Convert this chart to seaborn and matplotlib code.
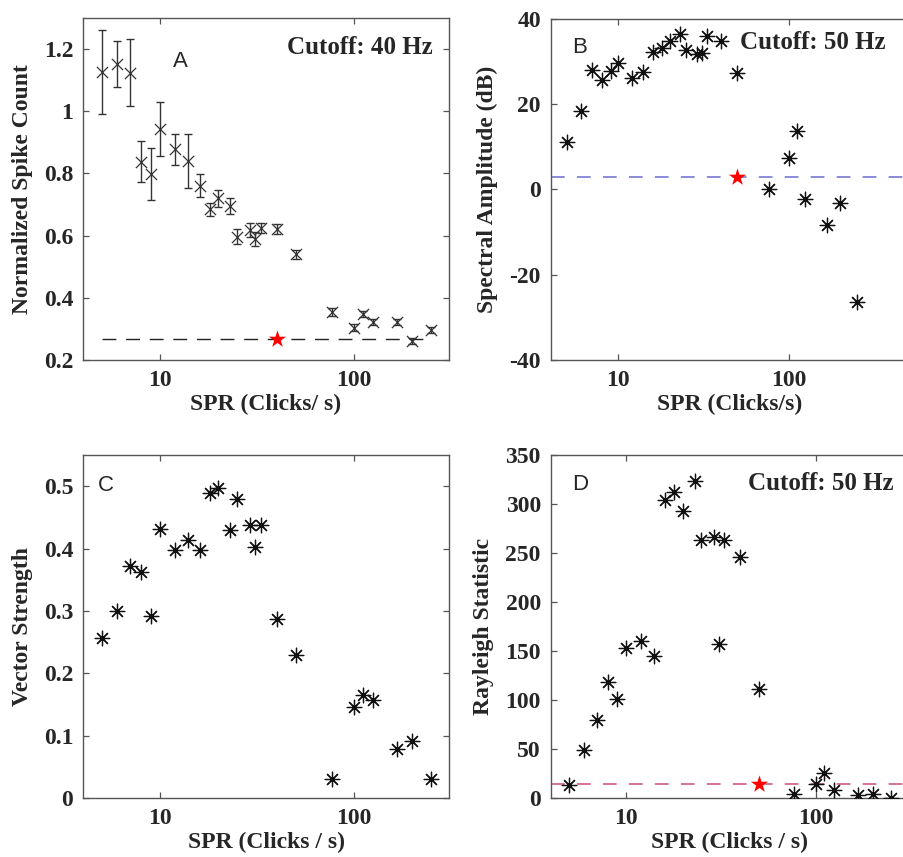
import numpy as np
import pandas as pd
import matplotlib
matplotlib.use("Agg")
import matplotlib.pyplot as plt
import seaborn as sns
from matplotlib.ticker import FixedLocator, FixedFormatter, NullLocator

# ---------------- data ----------------
spr = [5, 6, 7, 8, 9, 10, 12, 14, 16, 18, 20, 23, 25, 29, 31, 33, 40, 50,
       77, 100, 111, 125, 167, 200, 250]

spike_count = [1.125, 1.152, 1.124, 0.838, 0.797, 0.944, 0.877, 0.840, 0.761,
               0.684, 0.720, 0.695, 0.596, 0.619, 0.589, 0.625, 0.621, 0.540,
               0.354, 0.304, 0.349, 0.322, 0.323, 0.262, 0.296]
spike_err = [0.135, 0.075, 0.107, 0.066, 0.084, 0.087, 0.051, 0.086, 0.038,
             0.022, 0.028, 0.025, 0.024, 0.022, 0.021, 0.017, 0.017, 0.015,
             0.012, 0.011, 0.010, 0.010, 0.010, 0.010, 0.010]

spectral_amp = [11.2, 18.4, 28.0, 25.7, 27.8, 29.6, 26.1, 27.5, 32.3, 33.1,
                34.7, 36.4, 32.7, 31.7, 32.0, 35.9, 34.8, 27.3, 0.0, 7.3,
                13.7, -2.3, -8.3, -3.2, -26.3]

vector_strength = [0.257, 0.300, 0.373, 0.362, 0.292, 0.432, 0.398, 0.414,
                   0.398, 0.489, 0.498, 0.430, 0.479, 0.438, 0.403, 0.438,
                   0.287, 0.229, 0.031, 0.146, 0.166, 0.158, 0.078, 0.0915,
                   0.031]

rayleigh = [13.7, 48.7, 80.0, 118.4, 101.4, 153.1, 160.2, 144.9, 304.8, 312.6,
            292.6, 323.2, 263.0, 267.0, 157.5, 263.7, 246.0, 111.6, 3.8, 14.7,
            25.5, 8.5, 2.8, 3.8, 0.0]

# thresholds / cutoffs
cutoff_a = (40, 0.268)
cutoff_b = (50, 3.0)
cutoff_d = (50, 14.7)

x_ticks = [10, 100]
x_ticklabels = ["10", "100"]

df = pd.DataFrame({"spr": spr, "count": spike_count, "err": spike_err,
                   "amp": spectral_amp, "vs": vector_strength,
                   "ray": rayleigh})

# ---------------- style ----------------
sns.set_theme(style="white")
plt.rcParams["font.family"] = ["Liberation Serif", "DejaVu Serif"]
plt.rcParams["font.weight"] = "bold"

SERIF = ["Liberation Serif", "DejaVu Serif"]
SANS = ["Liberation Sans", "DejaVu Sans"]
TICK_FS = 17
LABEL_FS = 17
SPINE_C = "#555555"
ASTER = (8, 2, 0)

fig = plt.figure(figsize=(9.04, 8.57), dpi=100)
axA = fig.add_axes([0.0918, 0.580, 0.405, 0.399])
axB = fig.add_axes([0.609, 0.580, 0.3963, 0.398])
axC = fig.add_axes([0.0918, 0.0688, 0.405, 0.400])
axD = fig.add_axes([0.609, 0.0688, 0.3963, 0.400])


def style_axis(ax, xlim, ylim, yticks, yticklabels, xlabel, ylabel):
    ax.set_xscale("log")
    ax.set_xlim(*xlim)
    ax.set_ylim(*ylim)
    ax.xaxis.set_major_locator(FixedLocator(x_ticks))
    ax.xaxis.set_major_formatter(FixedFormatter(x_ticklabels))
    ax.xaxis.set_minor_locator(NullLocator())
    ax.set_yticks(yticks)
    ax.set_yticklabels(yticklabels)
    ax.tick_params(axis="both", which="major", direction="in", length=4,
                   width=0.9, color=SPINE_C, top=True, right=True,
                   bottom=True, left=True, labelsize=TICK_FS, pad=7)
    for lab in ax.get_xticklabels() + ax.get_yticklabels():
        lab.set_fontfamily(SERIF)
        lab.set_fontweight("bold")
    for sp in ax.spines.values():
        sp.set_visible(True)
        sp.set_color(SPINE_C)
        sp.set_linewidth(1.0)
    ax.set_xlabel(xlabel, fontsize=LABEL_FS, fontweight="bold",
                  family=SERIF, labelpad=2)
    ax.set_ylabel(ylabel, fontsize=LABEL_FS, fontweight="bold",
                  family=SERIF, labelpad=8)
    ax.grid(False)
    ax.set_facecolor("white")


# ---------- Panel A ----------
axA.errorbar(df["spr"], df["count"], yerr=df["err"], fmt="none",
             ecolor="#333333", elinewidth=1.0, capsize=3, capthick=1.0,
             zorder=2)
sns.scatterplot(data=df, x="spr", y="count", marker="x", color="#333333",
                s=65, linewidth=0.9, ax=axA, zorder=3, legend=False)
axA.hlines(cutoff_a[1], spr[0], spr[-1], colors="#222222", linestyles=(0, (10, 7)),
           linewidth=1.0, zorder=1)
sns.scatterplot(x=[cutoff_a[0]], y=[cutoff_a[1]], marker="*", color="red",
                s=170, linewidth=0, ax=axA, zorder=4, legend=False)
style_axis(axA, (4, 310), (0.2, 1.3), [0.2, 0.4, 0.6, 0.8, 1.0, 1.2],
           ["0.2", "0.4", "0.6", "0.8", "1", "1.2"],
           "SPR (Clicks/ s)", "Normalized Spike Count")
axA.text(0.265, 0.874, "A", transform=axA.transAxes, fontsize=16,
         family=SANS, fontweight="normal", ha="center", va="center")
axA.text(0.954, 0.915, "Cutoff: 40 Hz", transform=axA.transAxes,
         fontsize=18, family=SERIF, fontweight="bold", ha="right",
         va="center")

# ---------- Panel B ----------
sns.scatterplot(data=df, x="spr", y="amp", marker=ASTER, color="#111111",
                s=110, linewidth=0.9, ax=axB, zorder=3, legend=False)
axB.axhline(cutoff_b[1], color="#6b6bd0", linestyle=(0, (9, 8)),
            linewidth=1.1, zorder=1)
sns.scatterplot(x=[cutoff_b[0]], y=[cutoff_b[1]], marker="*", color="red",
                s=170, linewidth=0, ax=axB, zorder=4, legend=False)
style_axis(axB, (4, 506), (-40, 40), [-40, -20, 0, 20, 40],
           ["-40", "-20", "0", "20", "40"],
           "SPR (Clicks/s)", "Spectral Amplitude (dB)")
axB.text(0.082, 0.915, "B", transform=axB.transAxes, fontsize=16,
         family=SANS, fontweight="normal", ha="center", va="center")
axB.text(0.934, 0.93, "Cutoff: 50 Hz", transform=axB.transAxes,
         fontsize=18, family=SERIF, fontweight="bold", ha="right",
         va="center")

# ---------- Panel C ----------
sns.scatterplot(data=df, x="spr", y="vs", marker=ASTER, color="#111111",
                s=110, linewidth=0.9, ax=axC, zorder=3, legend=False)
style_axis(axC, (4, 310), (0, 0.55), [0, 0.1, 0.2, 0.3, 0.4, 0.5],
           ["0", "0.1", "0.2", "0.3", "0.4", "0.5"],
           "SPR (Clicks / s)", "Vector Strength")
axC.text(0.063, 0.912, "C", transform=axC.transAxes, fontsize=16,
         family=SANS, fontweight="normal", ha="center", va="center")

# ---------- Panel D ----------
sns.scatterplot(data=df, x="spr", y="ray", marker=ASTER, color="#111111",
                s=110, linewidth=0.9, ax=axD, zorder=3, legend=False)
axD.axhline(cutoff_d[1], color="#cc4d74", linestyle=(0, (9, 8)),
            linewidth=1.1, zorder=1)
sns.scatterplot(x=[cutoff_d[0]], y=[cutoff_d[1]], marker="*", color="red",
                s=170, linewidth=0, ax=axD, zorder=4, legend=False)
style_axis(axD, (4, 310), (0, 350), [0, 50, 100, 150, 200, 250, 300, 350],
           ["0", "50", "100", "150", "200", "250", "300", "350"],
           "SPR (Clicks / s)", "Rayleigh Statistic")
axD.text(0.082, 0.915, "D", transform=axD.transAxes, fontsize=16,
         family=SANS, fontweight="normal", ha="center", va="center")
axD.text(0.956, 0.918, "Cutoff: 50 Hz", transform=axD.transAxes,
         fontsize=18, family=SERIF, fontweight="bold", ha="right",
         va="center")

fig.savefig("out.png", dpi=100, facecolor="white")
